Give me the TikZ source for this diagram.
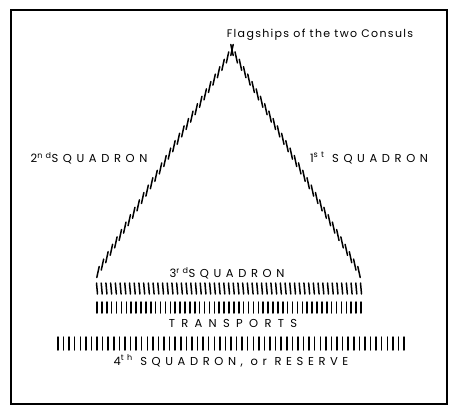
\documentclass[tikz,border=0pt]{standalone}
\usepackage{fontspec}
\newfontfamily\lettA[LetterSpace=40]{Poppins}
\newfontfamily\lettB[LetterSpace=55]{Poppins}
\newfontfamily\lettsm[LetterSpace=12]{Poppins}
\begin{document}
\begin{tikzpicture}[x=1pt,y=-1pt,
  lbl/.style={inner sep=0pt,font=\lettA\fontsize{11.5}{13}\selectfont},
  lblwide/.style={inner sep=0pt,font=\lettB\fontsize{11.5}{13}\selectfont},
  lblsm/.style={inner sep=0pt,font=\lettsm\fontsize{11}{13}\selectfont},
  ship/.style={line width=1.5pt,line cap=round},
  frame/.style={line width=1.6pt}]
\useasboundingbox (0,0) rectangle (458,415);
\draw[frame] (11,10) rectangle (447,404);
% left leg (2nd squadron)
\foreach \i in {0,...,30}{
  \pgfmathsetmacro\xx{98+134/30*\i}
  \pgfmathsetmacro\yy{272-222/30*\i}
  \draw[ship] (\xx-1.2,\yy+5.5) -- (\xx+1.2,\yy-5.5);
}
% right leg (1st squadron)
\foreach \i in {0,...,30}{
  \pgfmathsetmacro\xx{232+127/30*\i}
  \pgfmathsetmacro\yy{50+222/30*\i}
  \draw[ship] (\xx-1.2,\yy-5.5) -- (\xx+1.2,\yy+5.5);
}
% 3rd squadron row
\foreach \i in {0,...,56}{
  \pgfmathsetmacro\xx{97+264/56*\i}
  \draw[ship] (\xx-0.5,283) -- (\xx+0.5,294);
}
% transports row
\foreach \i in {0,...,54}{
  \pgfmathsetmacro\xx{97+264/54*\i}
  \draw[ship] (\xx,302) -- (\xx,313);
}
% 4th squadron row
\foreach \i in {0,...,62}{
  \pgfmathsetmacro\xx{58+346/62*\i}
  \draw[ship] (\xx,337) -- (\xx,350);
}
\node[lblsm] (flag) at (320,35) {Flagships of the two Consuls};
\node[lbl] (sq2) at (89,158) {2\textsuperscript{nd}SQUADRON};
\node[lbl] (sq1) at (369,158) {1\textsuperscript{st} SQUADRON};
\node[lbl] (sq3) at (227,273) {3\textsuperscript{rd}SQUADRON};
\node[lblwide] (tr) at (233,323.5) {TRANSPORTS};
\node[lbl] (sq4) at (231,361) {4\textsuperscript{th} SQUADRON, or RESERVE};
\end{tikzpicture}
\end{document}
